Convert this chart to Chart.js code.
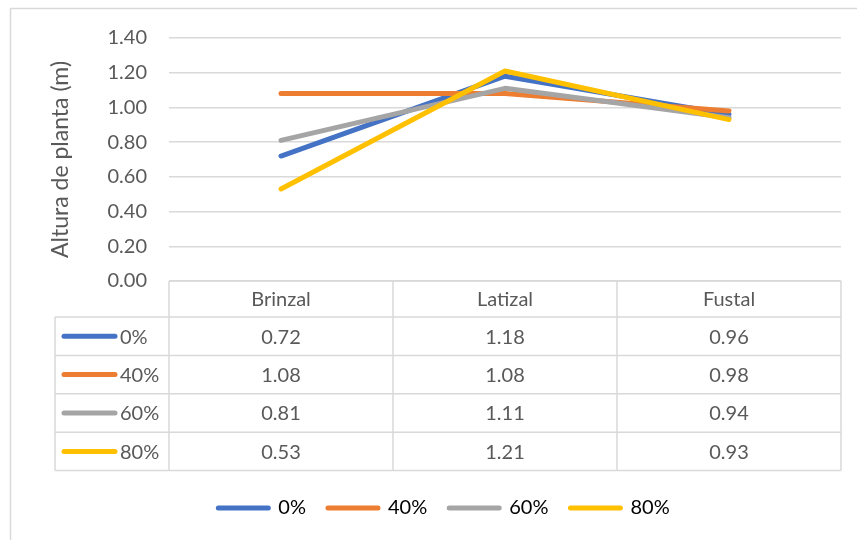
<!DOCTYPE html>
<html>
<head>
<meta charset="utf-8">
<script src="https://cdn.jsdelivr.net/npm/chart.js@4/dist/chart.umd.min.js"></script>
<style>
  html, body { margin: 0; padding: 0; background: #fff; }
  #wrap { width: 857px; height: 540px; }
</style>
</head>
<body>
<div id="wrap"><canvas id="chart"></canvas></div>
<script>
const categories = ["Brinzal", "Latizal", "Fustal"];
const seriesNames = ["0%", "40%", "60%", "80%"];
const values0 = [0.72, 1.18, 0.96];
const values40 = [1.08, 1.08, 0.98];
const values60 = [0.81, 1.11, 0.94];
const values80 = [0.53, 1.21, 0.93];
const colors = ["#4472C4", "#ED7D31", "#A5A5A5", "#FFC000"];
const yTitle = "Altura de planta (m)";

const textColor = "#595959";
const lineGrey = "#d9d9d9";
const fontFamily = "Lato, 'Open Sans', sans-serif";

const allValues = [values0, values40, values60, values80];

// frame round the whole chart, like the Excel chart border
const framePlugin = {
  id: "frame",
  beforeDraw(chart) {
    const ctx = chart.ctx;
    ctx.save();
    ctx.strokeStyle = lineGrey;
    ctx.lineWidth = 1.5;
    ctx.strokeRect(10.5, 8.5, 1000, 1000);
    ctx.restore();
  }
};

// data table under the plot
const tablePlugin = {
  id: "dataTable",
  afterDraw(chart) {
    const { ctx, chartArea } = chart;
    const x = chart.scales.x;
    const top = chartArea.bottom;
    const headerH = 36;
    const rowH = 38.4;
    const half = (x.getPixelForValue(1) - x.getPixelForValue(0)) / 2;
    const left = chartArea.left;
    const right = chartArea.right;
    const keyLeft = 55;
    const bottom = top + headerH + rowH * seriesNames.length;

    ctx.save();
    ctx.strokeStyle = lineGrey;
    ctx.lineWidth = 1.5;
    ctx.beginPath();
    // header top
    ctx.moveTo(left, top); ctx.lineTo(right, top);
    // row lines
    for (let r = 0; r <= seriesNames.length; r++) {
      const y = top + headerH + rowH * r;
      ctx.moveTo(keyLeft, y); ctx.lineTo(right, y);
    }
    // vertical lines
    ctx.moveTo(keyLeft, top + headerH); ctx.lineTo(keyLeft, bottom);
    categories.forEach((c, i) => {
      const cx = x.getPixelForValue(i);
      ctx.moveTo(cx - half, top); ctx.lineTo(cx - half, bottom);
    });
    ctx.moveTo(right, top); ctx.lineTo(right, bottom);
    ctx.stroke();

    ctx.font = "20px " + fontFamily;
    ctx.fillStyle = textColor;
    ctx.textAlign = "center";
    ctx.textBaseline = "middle";
    categories.forEach((c, i) => {
      ctx.fillText(c, x.getPixelForValue(i), top + headerH / 2 + 1);
    });

    seriesNames.forEach((name, r) => {
      const cy = top + headerH + rowH * r + rowH / 2 + 1;
      ctx.strokeStyle = colors[r];
      ctx.lineWidth = 5;
      ctx.lineCap = "round";
      ctx.beginPath();
      ctx.moveTo(64, cy - 1); ctx.lineTo(115, cy - 1);
      ctx.stroke();
      ctx.textAlign = "left";
      ctx.fillText(name, 120, cy);
      ctx.textAlign = "center";
      allValues[r].forEach((v, i) => {
        ctx.fillText(v.toFixed(2), x.getPixelForValue(i), cy);
      });
    });
    ctx.restore();
  }
};

const datasets = seriesNames.map((name, i) => ({
  label: name,
  data: allValues[i],
  borderColor: colors[i],
  backgroundColor: colors[i],
  borderWidth: 5,
  borderCapStyle: "round",
  borderJoinStyle: "round",
  pointRadius: 0,
  tension: 0,
  order: seriesNames.length - i // later series on top
}));

new Chart(document.getElementById("chart"), {
  type: "line",
  data: { labels: categories, datasets: datasets },
  options: {
    responsive: true,
    maintainAspectRatio: false,
    animation: false,
    layout: { padding: { left: 47, top: 38, right: 16, bottom: 12 } },
    scales: {
      x: {
        offset: true,
        ticks: { display: false },
        grid: { display: false },
        border: { display: false },
        afterFit(scale) { scale.height = 195; }
      },
      y: {
        min: 0,
        max: 1.4,
        ticks: {
          stepSize: 0.2,
          padding: 22,
          color: textColor,
          font: { family: fontFamily, size: 20 },
          callback: (v) => Number(v).toFixed(2)
        },
        grid: { color: lineGrey, lineWidth: 1.5, drawTicks: false },
        border: { display: false },
        title: {
          display: true,
          text: yTitle,
          color: textColor,
          font: { family: fontFamily, size: 23 },
          padding: 0
        },
        afterFit(scale) { scale.width = 122; }
      }
    },
    plugins: {
      legend: {
        position: "bottom",
        labels: {
          usePointStyle: true,
          pointStyle: "line",
          pointStyleWidth: 50,
          padding: 22,
          color: textColor,
          font: { family: fontFamily, size: 20 },
          generateLabels(chart) {
            return chart.data.datasets.map((ds, i) => ({
              text: ds.label,
              strokeStyle: ds.borderColor,
              fillStyle: ds.borderColor,
              lineWidth: 5,
              lineCap: "round",
              pointStyle: "line",
              datasetIndex: i,
              hidden: false
            }));
          }
        }
      },
      tooltip: { enabled: false }
    }
  },
  plugins: [framePlugin, tablePlugin]
});
</script>
</body>
</html>
